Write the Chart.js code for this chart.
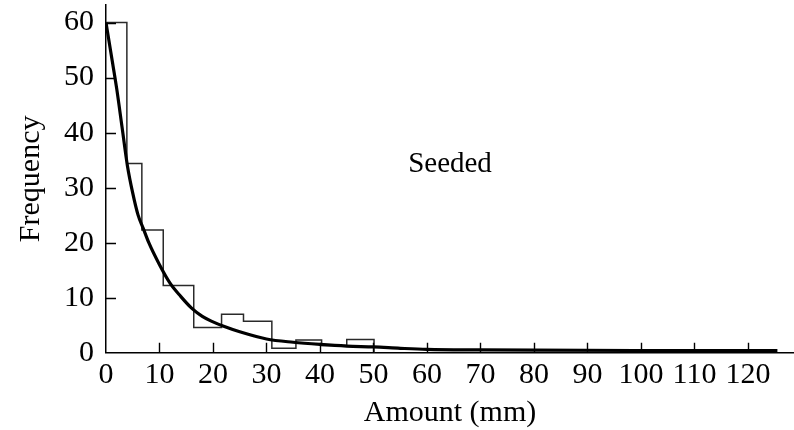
<!DOCTYPE html>
<html>
<head>
<meta charset="utf-8">
<title>Seeded</title>
<script src="https://cdn.jsdelivr.net/npm/chart.js@4.4.1/dist/chart.umd.min.js"></script>
<style>
  html, body { margin: 0; padding: 0; background: #ffffff; }
  #wrap { width: 794px; height: 430px; }
</style>
</head>
<body>
<div id="wrap"><canvas id="chart" width="794" height="430"></canvas></div>
<script>
// Histogram bins (mm) and counts
const binEdges = [0, 3.9, 6.7, 10.7, 16.4, 21.6, 25.7, 31.0, 35.5, 40.3, 45.0, 50.1];
const binCounts = [60, 34.4, 22.3, 12.2, 4.6, 7.0, 5.7, 0.8, 2.3, 1.3, 2.4];

// Fitted density curve
const fitX = [0, 1, 2, 3, 4, 5, 6, 7, 8, 10, 12, 14, 16, 18, 20, 22, 25, 30, 35, 40, 45, 50, 55, 60, 70, 80, 100, 125.5];
const fitY = [60, 54, 48, 41, 34, 29, 25, 22.5, 20, 16, 12.6, 10.2, 8.1, 6.6, 5.6, 4.8, 3.8, 2.5, 1.9, 1.5, 1.2, 1.05, 0.8, 0.6, 0.5, 0.45, 0.4, 0.4];

// Axis ticks
const xTickValues = [0, 10, 20, 30, 40, 50, 60, 70, 80, 90, 100, 110, 120];
const yTickValues = [0, 10, 20, 30, 40, 50, 60];

const annotationText = 'Seeded';
const xTitle = 'Amount (mm)';
const yTitle = 'Frequency';

// Outline points of the histogram: one step per bin, closing down to zero
const histPoints = binCounts.map((c, i) => ({ x: binEdges[i], y: c }));
histPoints.push({ x: binEdges[binEdges.length - 1], y: 0 });

const fitPoints = fitX.map((x, i) => ({ x: x, y: fitY[i] }));

const serif = 'Liberation Serif, "Times New Roman", Times, serif';

// Inward tick marks plus the in-plot label
const innerTicks = {
  id: 'innerTicks',
  afterDatasetsDraw(chart) {
    const { ctx, chartArea, scales } = chart;
    const xs = scales.x, ys = scales.y;
    ctx.save();
    ctx.strokeStyle = '#000';
    ctx.lineWidth = 1.4;
    ctx.beginPath();
    xTickValues.forEach(v => {
      if (v === 0) return;
      const px = Math.round(xs.getPixelForValue(v)) + 0.5;
      ctx.moveTo(px, chartArea.bottom);
      ctx.lineTo(px, chartArea.bottom - 10);
    });
    yTickValues.forEach(v => {
      if (v === 0) return;
      const py = Math.round(ys.getPixelForValue(v)) + 0.5;
      ctx.moveTo(chartArea.left, py);
      ctx.lineTo(chartArea.left + 10, py);
    });
    ctx.stroke();

    ctx.fillStyle = '#000';
    ctx.font = '29px ' + serif;
    ctx.textAlign = 'center';
    ctx.textBaseline = 'alphabetic';
    ctx.fillText(annotationText, xs.getPixelForValue(64.3), ys.getPixelForValue(32.85));
    ctx.restore();
  }
};

new Chart(document.getElementById('chart'), {
  type: 'line',
  data: {
    datasets: [
      {
        label: 'fit',
        data: fitPoints,
        borderColor: '#000',
        borderWidth: 3.2,
        pointRadius: 0,
        fill: false,
        cubicInterpolationMode: 'monotone',
        order: 0
      },
      {
        label: 'histogram',
        data: histPoints,
        borderColor: '#2a2a2a',
        borderWidth: 1.5,
        pointRadius: 0,
        fill: false,
        stepped: 'before',
        order: 1
      }
    ]
  },
  options: {
    responsive: false,
    devicePixelRatio: 1,
    animation: false,
    layout: { padding: { top: 5, right: 0, left: 0, bottom: 0 } },
    plugins: {
      legend: { display: false },
      tooltip: { enabled: false }
    },
    scales: {
      x: {
        type: 'linear',
        min: 0,
        max: 128.6,
        afterFit(scale) {
          scale.height = 77.3;
          scale.paddingLeft = 0;
          scale.paddingRight = 0;
        },
        afterBuildTicks(scale) { scale.ticks = xTickValues.map(v => ({ value: v })); },
        grid: { display: false, drawTicks: false },
        border: { display: true, color: '#000', width: 1.5 },
        ticks: {
          color: '#000',
          padding: 4,
          maxRotation: 0,
          autoSkip: false,
          font: { family: serif, size: 30 }
        },
        title: {
          display: true,
          text: xTitle,
          color: '#000',
          font: { family: serif, size: 30 },
          padding: { top: 0, bottom: -1 }
        }
      },
      y: {
        type: 'linear',
        min: 0,
        max: 63.2,
        afterFit(scale) {
          scale.width = 106;
          scale.paddingTop = 0;
          scale.paddingBottom = 0;
        },
        afterBuildTicks(scale) { scale.ticks = yTickValues.map(v => ({ value: v })); },
        grid: { display: false, drawTicks: false },
        border: { display: true, color: '#000', width: 1.5 },
        ticks: {
          color: '#000',
          padding: 12,
          autoSkip: false,
          font: { family: serif, size: 30 }
        },
        title: {
          display: true,
          text: yTitle,
          color: '#000',
          font: { family: serif, size: 30 },
          padding: { top: 13, bottom: 0 }
        }
      }
    }
  },
  plugins: [innerTicks]
});
</script>
</body>
</html>
